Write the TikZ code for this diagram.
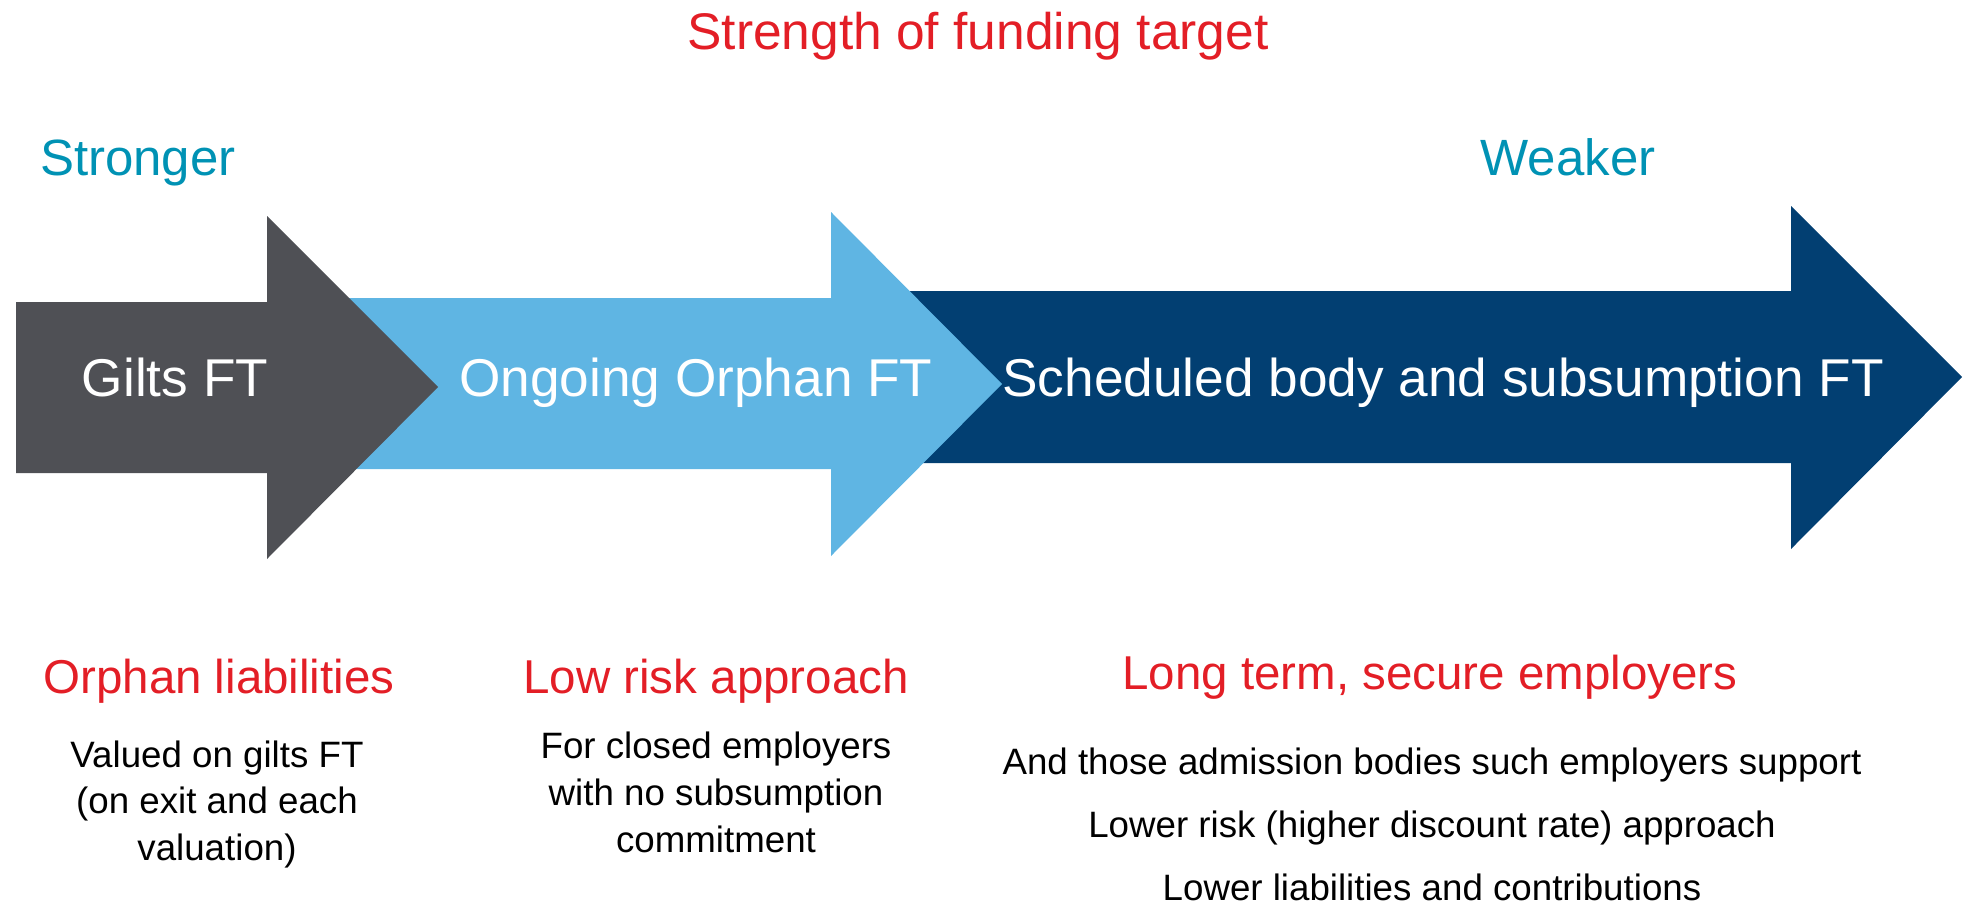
\documentclass[tikz,border=0pt]{standalone}
\usepackage{fontspec}
\setmainfont{Liberation Sans}
\definecolor{cgray}{HTML}{4F5055}
\definecolor{clight}{HTML}{5FB5E3}
\definecolor{cdark}{HTML}{023F72}
\definecolor{cred}{HTML}{E31E26}
\definecolor{cteal}{HTML}{0092B4}
\begin{document}
\begin{tikzpicture}[x=0.5pt,y=-0.5pt,
  every node/.style={inner sep=0pt,outer sep=0pt},
  title/.style={anchor=base,text=cred,font=\fontsize{25.75}{30}\selectfont},
  side/.style={anchor=base,text=cteal,font=\fontsize{25.5}{30}\selectfont},
  arrowlabel/.style={anchor=base,text=white,font=\fontsize{26.6}{32}\selectfont},
  heading/.style={anchor=base,text=cred,font=\fontsize{23.75}{28}\selectfont},
  bodytext/.style={anchor=base,text=black,font=\fontsize{18.35}{22}\selectfont}]
\useasboundingbox (0,0) rectangle (1964,904);
% arrows
\fill[cdark] (900,291) -- (1791,291) -- (1791,206) -- (1962,377) -- (1791,549) -- (1791,463) -- (900,463) -- cycle;
\fill[clight] (300,298) -- (831,298) -- (831,212) -- (1002,384) -- (831,556) -- (831,469) -- (300,469) -- cycle;
\fill[cgray] (16,302) -- (267,302) -- (267,216) -- (438,387) -- (267,559) -- (267,473) -- (16,473) -- cycle;
% top labels
\node[title] (ttl) at (978,50) {Strength of funding target};
\node[side,anchor=base west] (strong) at (40,175) {Stronger};
\node[side] (weak) at (1568,175) {Weaker};
% arrow labels
\node[arrowlabel] (gilts) at (175,396) {Gilts FT};
\node[arrowlabel] (orphan) at (696,396) {Ongoing Orphan FT};
\node[arrowlabel] (sched) at (1443,396) {Scheduled body and subsumption FT};
% headings
\node[heading] (h1) at (219,693) {Orphan liabilities};
\node[heading] (h2) at (716,693) {Low risk approach};
\node[heading] (h3) at (1430,689) {Long term, secure employers};
% body text
\node[bodytext] (a1) at (217,767) {Valued on gilts FT};
\node[bodytext] (a2) at (217,813) {(on exit and each};
\node[bodytext] (a3) at (217,860) {valuation)};
\node[bodytext] (b1) at (716,758) {For closed employers};
\node[bodytext] (b2) at (716,805) {with no subsumption};
\node[bodytext] (b3) at (716,852) {commitment};
\node[bodytext] (c1) at (1432,774) {And those admission bodies such employers support};
\node[bodytext] (c2) at (1432,837) {Lower risk (higher discount rate) approach};
\node[bodytext] (c3) at (1432,900) {Lower liabilities and contributions};
\end{tikzpicture}
\end{document}
